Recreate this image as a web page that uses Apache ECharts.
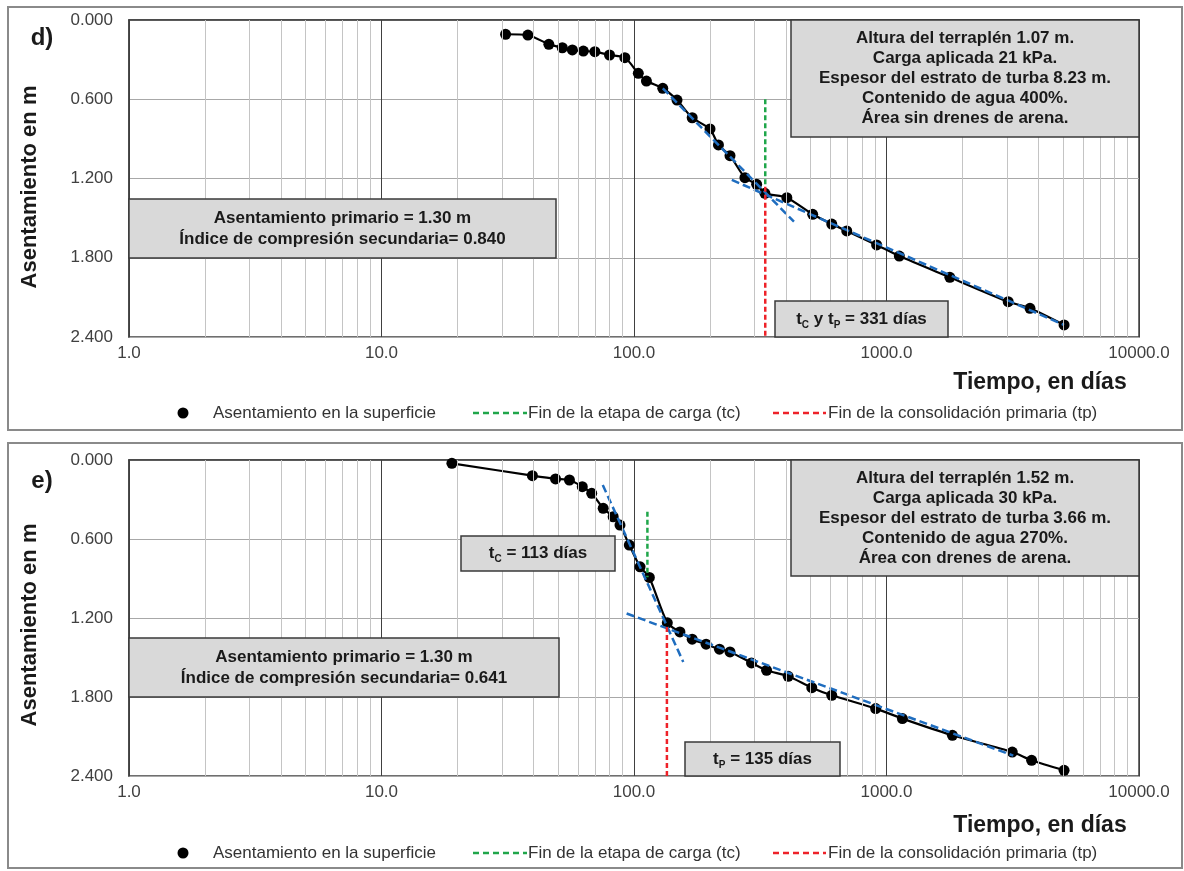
<!DOCTYPE html>
<html>
<head>
<meta charset="utf-8">
<script src="https://cdn.jsdelivr.net/npm/echarts@6/dist/echarts.min.js"></script>
<style>html,body{margin:0;padding:0;background:#fff;}#c{width:1184px;height:871px;}</style>
</head>
<body>
<div id="c"></div>
<script>
// ---------- DATA ----------
// Panel d) settlement at surface
const dTime = [31, 38, 46, 52, 57, 63, 70, 80, 92, 104, 112, 130, 148, 170, 200, 216, 240, 275, 306, 330, 403, 510, 607, 696, 914, 1124, 1782, 3034, 3700, 5050];
const dSettle = [0.108, 0.114, 0.184, 0.210, 0.227, 0.235, 0.240, 0.265, 0.285, 0.404, 0.462, 0.517, 0.606, 0.740, 0.825, 0.946, 1.027, 1.194, 1.244, 1.312, 1.345, 1.471, 1.545, 1.597, 1.703, 1.787, 1.948, 2.133, 2.183, 2.309];
const dTangent1 = [[130, 0.517], [430, 1.527]];
const dTangent2 = [[244, 1.211], [5050, 2.309]];
const dTc = 331, dTcRange = [0.600, 1.262];
const dTp = 331, dTpRange = [1.262, 2.400];

// Panel e) settlement at surface
const eTime = [19, 39.6, 48.9, 55.5, 62.4, 68, 75.5, 82.7, 88, 95.8, 105.7, 115, 135.5, 152, 170, 193, 218, 240, 292, 335, 408, 506, 607, 906, 1156, 1824, 3148, 3756, 5050];
const eSettle = [0.025, 0.119, 0.144, 0.152, 0.203, 0.253, 0.367, 0.431, 0.494, 0.646, 0.811, 0.892, 1.237, 1.306, 1.361, 1.399, 1.437, 1.458, 1.541, 1.597, 1.643, 1.729, 1.787, 1.888, 1.964, 2.091, 2.218, 2.281, 2.357];
const eTangent1 = [[75.2, 0.190], [156.7, 1.534]];
const eTangent2 = [[93.5, 1.166], [3177, 2.245]];
const eTc = 113, eTcRange = [0.393, 0.890];
const eTp = 135, eTpRange = [1.268, 2.400];

// Axis ticks
const minorTimes = [2,3,4,5,6,7,8,9,20,30,40,50,60,70,80,90,200,300,400,500,600,700,800,900,2000,3000,4000,5000,6000,7000,8000,9000];
const yMin = 0, yMax = 2.4, yStep = 0.6;

// Texts
const dInfo = ['Altura del terraplén 1.07 m.', 'Carga aplicada 21 kPa.', 'Espesor del estrato de turba 8.23 m.', 'Contenido de agua 400%.', 'Área sin drenes de arena.'];
const eInfo = ['Altura del terraplén 1.52 m.', 'Carga aplicada 30 kPa.', 'Espesor del estrato de turba 3.66 m.', 'Contenido de agua 270%.', 'Área con drenes de arena.'];
const dPrimary = ['Asentamiento primario = 1.30 m', 'Índice de compresión secundaria= 0.840'];
const ePrimary = ['Asentamiento primario = 1.30 m', 'Índice de compresión secundaria= 0.641'];
const legendTexts = ['Asentamiento en la superficie', 'Fin de la etapa de carga (tc)', 'Fin de la consolidación primaria (tp)'];

// ---------- CHART ----------
const FONT = '"Liberation Sans", Arial, sans-serif';
const BLUE = '#1f6dbf', GREEN = '#1fa64a', RED = '#ee2229', GRAYBOX = '#d9d9d9';
const pair = (xs, ys) => xs.map((x, i) => [x, ys[i]]);

const chart = echarts.init(document.getElementById('c'), null, {renderer: 'canvas'});

function xAxisDef(gi) {
  return {
    type: 'log', logBase: 10, min: 1, max: 10000, gridIndex: gi,
    axisLine: {show: true, lineStyle: {color: '#404040', width: 1.5}},
    axisTick: {show: false},
    axisLabel: {color: '#404040', fontFamily: FONT, fontSize: 17, margin: 8, formatter: v => Number(v).toFixed(1)},
    splitLine: {show: true, lineStyle: {color: '#404040', width: 1}},
    minorTick: {show: false}
  };
}
function yAxisDef(gi) {
  return {
    type: 'value', inverse: true, min: yMin, max: yMax, interval: yStep, gridIndex: gi,
    axisLine: {show: true, lineStyle: {color: '#404040', width: 1.5}},
    axisTick: {show: false},
    axisLabel: {color: '#404040', fontFamily: FONT, fontSize: 17, margin: 16, formatter: v => Number(v).toFixed(3)},
    splitLine: {show: true, lineStyle: {color: '#a8a8a8', width: 1}}
  };
}
function panelSeries(gi, t, s, tan1, tan2, tc, tcR, tp, tpR) {
  return [
    {
      type: 'line', xAxisIndex: gi, yAxisIndex: gi, data: [[1, 0]], symbol: 'none',
      lineStyle: {opacity: 0}, silent: true, z: 1,
      markLine: {silent: true, symbol: ['none', 'none'], label: {show: false}, animation: false,
        lineStyle: {color: '#c4c4c4', width: 1, type: 'solid'},
        data: minorTimes.map(v => ({xAxis: v}))}
    },
    {
      type: 'line', xAxisIndex: gi, yAxisIndex: gi, data: pair(t, s), smooth: 0.25,
      symbol: 'circle', symbolSize: 11, itemStyle: {color: '#000'},
      lineStyle: {color: '#000', width: 2.2}, z: 3
    },
    {type: 'line', xAxisIndex: gi, yAxisIndex: gi, data: tan1, symbol: 'none',
      lineStyle: {color: BLUE, width: 2.5, type: [8, 4]}, z: 4},
    {type: 'line', xAxisIndex: gi, yAxisIndex: gi, data: tan2, symbol: 'none',
      lineStyle: {color: BLUE, width: 2.5, type: [8, 4]}, z: 4},
    {type: 'line', xAxisIndex: gi, yAxisIndex: gi, data: [[tc, tcR[0]], [tc, tcR[1]]], symbol: 'none',
      lineStyle: {color: GREEN, width: 2.5, type: [5, 3]}, z: 5},
    {type: 'line', xAxisIndex: gi, yAxisIndex: gi, data: [[tp, tpR[0]], [tp, tpR[1]]], symbol: 'none',
      lineStyle: {color: RED, width: 2.5, type: [5, 3]}, z: 5}
  ];
}

function box(x, y, w, h, text, rich, lh) {
  return [
    {type: 'rect', z: 20, shape: {x: x, y: y, width: w, height: h},
      style: {fill: GRAYBOX, stroke: '#3a3a3a', lineWidth: 1.5}},
    {type: 'text', z: 21, x: x + w / 2, y: y + h / 2,
      style: {text: text, rich: rich || undefined, font: 'bold 17px ' + FONT, fill: '#1a1a1a',
        align: 'center', verticalAlign: 'middle', lineHeight: lh || 21}}
  ];
}
const subRich = {
  b: {fontSize: 17, fontWeight: 'bold', fontFamily: FONT, color: '#1a1a1a', lineHeight: 22},
  s: {fontSize: 10, fontWeight: 'bold', fontFamily: FONT, color: '#1a1a1a', lineHeight: 12, verticalAlign: 'bottom'}
};
function legend(y) {
  return [
    {type: 'circle', z: 20, shape: {cx: 183, cy: y, r: 5.5}, style: {fill: '#000'}},
    {type: 'text', z: 20, x: 213, y: y, style: {text: legendTexts[0], font: '17px ' + FONT, fill: '#333', verticalAlign: 'middle'}},
    {type: 'line', z: 20, shape: {x1: 473, y1: y, x2: 527, y2: y}, style: {stroke: GREEN, lineWidth: 2.5, lineDash: [6, 4]}},
    {type: 'text', z: 20, x: 528, y: y, style: {text: legendTexts[1], font: '17px ' + FONT, fill: '#333', verticalAlign: 'middle'}},
    {type: 'line', z: 20, shape: {x1: 773, y1: y, x2: 826, y2: y}, style: {stroke: RED, lineWidth: 2.5, lineDash: [6, 4]}},
    {type: 'text', z: 20, x: 828, y: y, style: {text: legendTexts[2], font: '17px ' + FONT, fill: '#333', verticalAlign: 'middle'}}
  ];
}
function frameAndLabels(top, panelLabel, yName, xNameY, legY) {
  return [
    {type: 'rect', z: 0, shape: {x: 8, y: top, width: 1174, height: top === 7 ? 423 : 425},
      style: {fill: 'none', stroke: '#8a8a8a', lineWidth: 2}},
    {type: 'text', z: 20, x: 42, y: panelLabel[1], style: {text: panelLabel[0], font: 'bold 24px ' + FONT, fill: '#1a1a1a', align: 'center', verticalAlign: 'middle'}},
    {type: 'text', z: 20, x: 30, y: yName, rotation: Math.PI / 2,
      style: {text: 'Asentamiento en m', font: 'bold 22px ' + FONT, fill: '#1a1a1a', align: 'center', verticalAlign: 'middle'}},
    {type: 'text', z: 20, x: 1040, y: xNameY, style: {text: 'Tiempo, en días', font: 'bold 23px ' + FONT, fill: '#1a1a1a', align: 'center', verticalAlign: 'middle'}}
  ].concat(legend(legY));
}

const graphics = [].concat(
  frameAndLabels(7, ['d)', 38], 187, 383, 413),
  frameAndLabels(443, ['e)', 481], 625, 826, 853),
  box(129, 199, 427, 59, dPrimary.join('\n')),
  box(791, 20, 348, 117, dInfo.join('\n'), null, 20),
  box(775, 301, 173, 36, '{b|t}{s|C}{b| y t}{s|P}{b| = ' + dTp + ' días}', subRich),
  box(129, 638, 430, 59, ePrimary.join('\n')),
  box(791, 460, 348, 116, eInfo.join('\n'), null, 20),
  box(461, 536, 154, 35, '{b|t}{s|C}{b| = ' + eTc + ' días}', subRich),
  box(685, 742, 155, 34, '{b|t}{s|P}{b| = ' + eTp + ' días}', subRich)
);

const option = {
  animation: false,
  backgroundColor: '#fff',
  grid: [
    {left: 129, right: 45, top: 20, height: 317, show: true, borderColor: '#404040', borderWidth: 1.5, backgroundColor: '#fff'},
    {left: 129, right: 45, top: 460, height: 316, show: true, borderColor: '#404040', borderWidth: 1.5, backgroundColor: '#fff'}
  ],
  xAxis: [xAxisDef(0), xAxisDef(1)],
  yAxis: [yAxisDef(0), yAxisDef(1)],
  series: [].concat(
    panelSeries(0, dTime, dSettle, dTangent1, dTangent2, dTc, dTcRange, dTp, dTpRange),
    panelSeries(1, eTime, eSettle, eTangent1, eTangent2, eTc, eTcRange, eTp, eTpRange)
  ),
  graphic: {elements: graphics}
};
chart.setOption(option);
</script>
</body>
</html>
